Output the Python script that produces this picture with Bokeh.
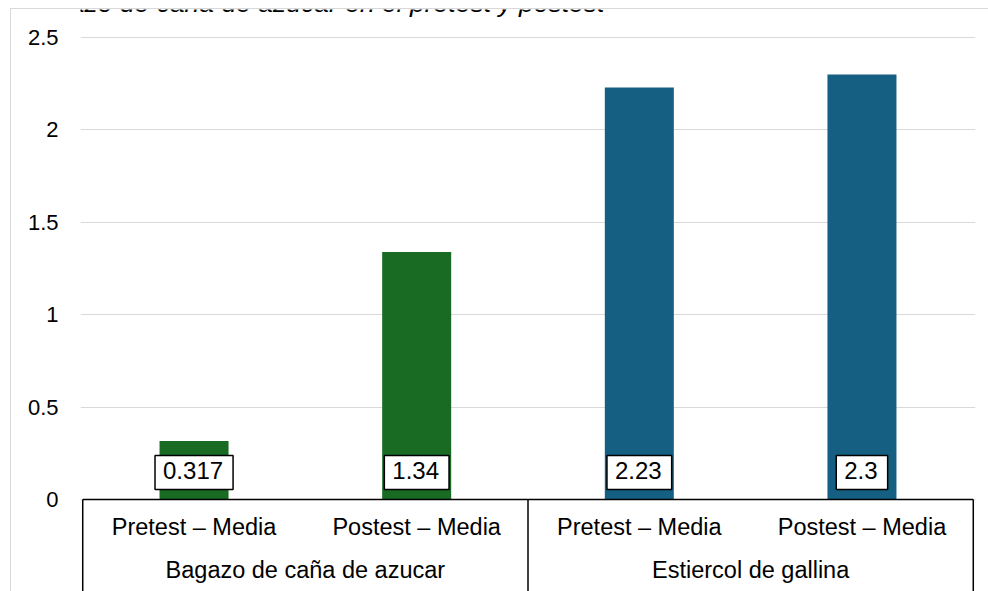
from bokeh.plotting import figure
from bokeh.models import (FactorRange, Range1d, Label, FixedTicker, NumeralTickFormatter)
from bokeh.core.properties import value
from bokeh.embed import file_html
from bokeh.resources import INLINE

# ---- data ----
title_text = "el bagazo de caña de azúcar en el pretest y postest"
groups = ["Bagazo de caña de azucar", "Estiercol de gallina"]
subcats = ["Pretest – Media", "Postest – Media"]
values_bagazo = [0.317, 1.34]
values_estiercol = [2.23, 2.3]
labels_bagazo = ["0.317", "1.34"]
labels_estiercol = ["2.23", "2.3"]
group_colors = ["#196B24", "#156082"]
yticks = [0, 0.5, 1, 1.5, 2, 2.5]

factors = [(g, s) for g in groups for s in subcats]
vals = values_bagazo + values_estiercol
labels = labels_bagazo + labels_estiercol
bar_colors = [c for c in group_colors for _ in subcats]

FONT = "Liberation Sans"
W, H = 988, 591
LEFT = 80

x_range = FactorRange(*factors, group_padding=0, factor_padding=0,
                      range_padding=0.01, range_padding_units="absolute")
p = figure(width=W, height=H, x_range=x_range, y_range=Range1d(-0.498, 2.652),
           output_backend="svg", toolbar_location=None, x_axis_location=None,
           min_border_left=LEFT, min_border_right=13, min_border_top=9, min_border_bottom=0,
           styles={"background":
                   "linear-gradient(#d9d9d9,#d9d9d9) 10px 8px / 1px 100% no-repeat, "
                   "linear-gradient(#d9d9d9,#d9d9d9) 10px 8px / 100% 1px no-repeat, white"})
p.outline_line_color = None
p.background_fill_color = "white"
p.border_fill_color = None

# y axis
p.yaxis.ticker = FixedTicker(ticks=yticks)
p.yaxis.formatter = NumeralTickFormatter(format="0.[0]")
p.yaxis.axis_line_color = None
p.yaxis.major_tick_line_color = None
p.yaxis.minor_tick_line_color = None
p.yaxis.major_label_standoff = 16
p.yaxis.major_label_text_font = FONT
p.yaxis.major_label_text_font_size = "22px"
p.yaxis.major_label_text_color = "black"
p.xgrid.visible = False
p.ygrid.ticker = FixedTicker(ticks=yticks)
p.ygrid.grid_line_color = "#d9d9d9"
p.ygrid.grid_line_width = 1

# bars
p.vbar(x=factors, top=vals, width=0.31, fill_color=bar_colors, line_color=None)

# category axis line and separators
n = len(factors)
p.segment(x0=[0], y0=[0], x1=[n], y1=[0], line_color="black", line_width=1.5)
bounds = [0]
for g in groups:
    bounds.append(bounds[-1] + len(subcats))
p.segment(x0=bounds, y0=[0] * len(bounds), x1=bounds, y1=[p.y_range.start] * len(bounds),
          line_color="black", line_width=1.5)

# category labels
p.text(x=factors, y=[0] * n, text=[s for g, s in factors], y_offset=28,
       text_align="center", text_baseline="alphabetic", text_font=value(FONT),
       text_font_size="23.5px", text_color="black")
p.text(x=groups, y=[0] * len(groups), text=groups, y_offset=71,
       text_align="center", text_baseline="alphabetic", text_font=value(FONT),
       text_font_size="23.5px", text_color="black")

# data labels (x = synthetic coordinate of each factor's centre)
for i, lab in enumerate(labels):
    p.add_layout(Label(x=i + 0.5, y=0, text=lab, y_offset=27, text_align="center",
                       text_baseline="middle", text_font=FONT, text_font_size="24px",
                       text_color="black", background_fill_color="white",
                       border_line_color="black", border_line_width=1.5,
                       padding=(8, 10, 7, 10)))

# clipped caption at the very top (screen units, relative to the frame)
p.add_layout(Label(x=-3 - LEFT, y=H - 2, x_units="screen", y_units="screen", text=title_text,
                   text_font=FONT, text_font_size="26.5px", text_font_style="italic",
                   text_baseline="alphabetic", text_color="black"))

open("out.html", "w").write(file_html(p, INLINE))
